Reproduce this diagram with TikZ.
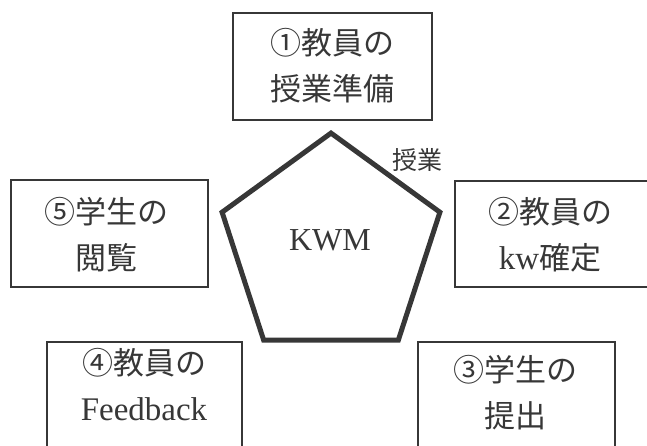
\documentclass[tikz,border=0pt]{standalone}
\usepackage{fontspec}
\setmainfont{Liberation Serif}
\newfontfamily\jp{Noto Sans CJK JP}
\usetikzlibrary{shapes.geometric}
\definecolor{ink}{RGB}{55,55,55}
\newcommand{\latn}[1]{{\rmfamily\fontsize{33}{46}\selectfont #1}}
\begin{document}
\begin{tikzpicture}[x=1pt,y=-1pt,
  box/.style={draw=ink, line width=1.5pt, rectangle, inner sep=0pt},
  lbl/.style={text=ink, align=center, inner sep=0pt, font=\jp\fontsize{31}{46}\selectfont}]
\useasboundingbox (0,0) rectangle (647,446);
\clip (0,0) rectangle (647,446);
% boxes
\node[box, minimum width=199pt, minimum height=107pt] (b1) at (332.5,66.5) {};
\node[box, minimum width=197pt, minimum height=107pt] (b5) at (109.5,233.5) {};
\node[box, minimum width=205pt, minimum height=106pt] (b2) at (557.5,234) {};
\node[box, minimum width=195pt, minimum height=118pt] (b4) at (144.5,401) {};
\node[box, minimum width=197pt, minimum height=118pt] (b3) at (516.5,401) {};
% texts
\node[lbl] (t1) at (332,66) {①教員の\\授業準備};
\node[lbl] (t5) at (106,234.5) {⑤学生の\\閲覧};
\node[lbl] (t2) at (550,235) {②教員の\\\latn{kw}確定};
\node[lbl] (t4) at (144,384.5) {④教員の\\\latn{Feedback}};
\node[lbl] (t3) at (515,392.5) {③学生の\\提出};
% pentagon
\node[regular polygon, regular polygon sides=5, minimum size=229pt, inner sep=0pt,
      draw=ink, line width=5pt] (kwm) at (331,247.6) {};
\node[text=ink, inner sep=0pt, font=\fontsize{32}{36}\selectfont] (kwmtext) at (330,240) {KWM};
\node[text=ink, inner sep=0pt, font=\jp\fontsize{25}{30}\selectfont] (jugyo) at (417,160) {授業};
\end{tikzpicture}
\end{document}
